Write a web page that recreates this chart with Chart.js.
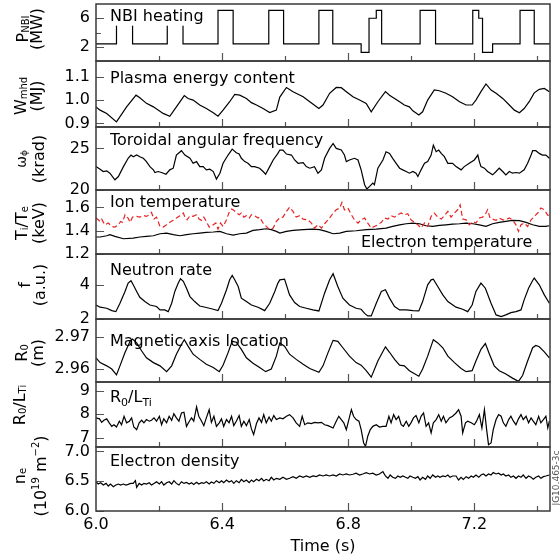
<!DOCTYPE html>
<html><head><meta charset="utf-8">
<script src="https://cdn.jsdelivr.net/npm/chart.js@4.4.1/dist/chart.umd.min.js"></script>
<style>
html,body{margin:0;padding:0;background:#fff;}
#wrap{position:relative;width:560px;height:560px;background:#fff;overflow:hidden;}
#wrap canvas{position:absolute;left:0;top:0;}
</style></head><body><div id="wrap"></div>
<script>
// ---------------- DATA ----------------
const timeTickValues = [6.0, 6.4, 6.8, 7.2];
const timeTickLabels = ['6.0', '6.4', '6.8', '7.2'];
const timeMinorMarks = [6.2, 6.6, 7.0, 7.4];

// NBI power (MW), step changes [time, power]
const nbiPower = [[6.000,2.4],[6.065,7.1],[6.116,2.4],[6.226,7.1],[6.276,2.4],[6.387,7.1],[6.435,2.4],[6.548,7.1],[6.595,2.4],[6.707,7.1],[6.751,2.4],[6.841,1.2],[6.866,6.0],[6.889,7.1],[6.906,2.4],[7.028,7.1],[7.077,2.4],[7.195,7.1],[7.214,6.0],[7.226,1.2],[7.258,2.4],[7.345,7.1],[7.390,2.4],[7.440,2.4]];
const nbiTicks = [2, 6];
const nbiTickLabels = ['2', '6'];

// Plasma energy content (MJ)
const wmhd = [[6.000,0.971],[6.013,0.957],[6.034,0.943],[6.065,0.907],[6.097,0.971],[6.127,1.021],[6.139,1.010],[6.160,0.986],[6.182,0.971],[6.213,0.943],[6.234,0.931],[6.255,0.971],[6.280,1.019],[6.292,1.007],[6.308,1.000],[6.329,0.979],[6.350,0.964],[6.372,0.946],[6.387,0.931],[6.403,0.957],[6.424,0.993],[6.440,1.024],[6.456,1.021],[6.477,1.007],[6.493,0.989],[6.509,0.979],[6.530,0.964],[6.551,0.947],[6.572,0.957],[6.583,1.013],[6.604,1.054],[6.625,1.036],[6.657,1.014],[6.678,0.993],[6.707,0.964],[6.720,0.979],[6.741,1.029],[6.762,1.054],[6.778,1.053],[6.794,1.036],[6.815,1.014],[6.836,1.000],[6.857,0.986],[6.873,0.950],[6.894,0.993],[6.918,1.036],[6.931,1.021],[6.947,1.007],[6.963,0.993],[6.978,0.979],[6.994,0.971],[7.005,0.954],[7.024,0.936],[7.036,0.950],[7.052,1.000],[7.073,1.043],[7.089,1.040],[7.110,1.029],[7.131,1.014],[7.153,0.993],[7.174,0.979],[7.193,0.979],[7.205,1.000],[7.221,1.036],[7.237,1.069],[7.253,1.043],[7.269,1.029],[7.290,1.007],[7.311,0.979],[7.327,0.957],[7.343,0.946],[7.358,0.964],[7.374,0.993],[7.390,1.031],[7.406,1.046],[7.422,1.050],[7.438,1.036]];
const wmhdTicks = [0.9, 1.0, 1.1];
const wmhdTickLabels = ['0.9', '1.0', '1.1'];

// Toroidal angular frequency (krad)
const omega = [[6.000,22.81],[6.013,22.50],[6.023,22.22],[6.034,22.30],[6.044,22.02],[6.060,21.23],[6.071,21.62],[6.087,22.81],[6.102,23.81],[6.111,24.20],[6.118,24.00],[6.129,24.20],[6.139,24.00],[6.150,23.81],[6.160,23.41],[6.171,22.81],[6.182,22.42],[6.187,22.10],[6.197,22.22],[6.208,22.10],[6.222,21.90],[6.234,22.42],[6.245,22.62],[6.255,24.20],[6.271,24.72],[6.282,24.20],[6.298,23.81],[6.308,23.21],[6.319,23.41],[6.329,22.81],[6.340,22.81],[6.350,22.42],[6.361,22.50],[6.372,22.22],[6.382,21.31],[6.393,22.02],[6.403,23.21],[6.419,24.20],[6.432,24.92],[6.445,24.48],[6.454,24.32],[6.461,23.81],[6.472,23.41],[6.482,23.21],[6.493,22.81],[6.503,22.81],[6.519,22.62],[6.530,22.22],[6.538,21.90],[6.551,22.81],[6.562,23.61],[6.577,24.40],[6.583,24.80],[6.593,24.80],[6.604,24.32],[6.620,24.20],[6.630,23.61],[6.641,23.21],[6.657,23.29],[6.667,22.81],[6.678,22.62],[6.693,22.81],[6.704,22.02],[6.715,22.42],[6.725,23.81],[6.741,25.00],[6.752,25.59],[6.762,25.00],[6.778,24.80],[6.788,24.20],[6.794,23.41],[6.804,23.61],[6.820,23.81],[6.831,23.61],[6.841,22.42],[6.852,20.63],[6.859,20.12],[6.868,20.43],[6.878,20.83],[6.883,20.63],[6.894,22.62],[6.910,23.61],[6.920,24.60],[6.931,24.40],[6.941,23.81],[6.952,23.21],[6.963,22.62],[6.973,22.42],[6.984,22.22],[6.994,22.02],[7.005,22.22],[7.015,22.02],[7.021,21.62],[7.031,22.42],[7.042,23.21],[7.052,23.41],[7.063,24.20],[7.070,25.39],[7.079,24.60],[7.087,24.80],[7.095,24.40],[7.105,24.00],[7.116,23.21],[7.131,23.21],[7.142,22.81],[7.158,22.42],[7.168,22.81],[7.184,23.21],[7.200,23.61],[7.211,24.20],[7.216,23.41],[7.221,22.81],[7.232,22.62],[7.242,22.22],[7.258,21.82],[7.269,22.22],[7.279,22.62],[7.290,22.22],[7.300,21.82],[7.311,22.22],[7.321,22.02],[7.332,22.10],[7.343,22.02],[7.358,22.42],[7.369,23.21],[7.380,24.20],[7.385,24.72],[7.395,24.72],[7.406,24.40],[7.416,24.20],[7.427,24.20],[7.438,23.81]];
const omegaTicks = [20, 25];
const omegaTickLabels = ['20', '25'];

// Ion temperature (keV), dashed red
const ionTemp = [[6.000,1.509],[6.007,1.494],[6.013,1.480],[6.018,1.500],[6.028,1.451],[6.039,1.466],[6.050,1.437],[6.060,1.431],[6.071,1.451],[6.078,1.480],[6.084,1.472],[6.092,1.537],[6.097,1.517],[6.102,1.509],[6.108,1.472],[6.116,1.517],[6.129,1.523],[6.139,1.517],[6.150,1.531],[6.160,1.523],[6.169,1.537],[6.176,1.557],[6.184,1.500],[6.192,1.517],[6.203,1.437],[6.213,1.431],[6.224,1.451],[6.234,1.472],[6.245,1.489],[6.255,1.509],[6.266,1.529],[6.277,1.552],[6.282,1.517],[6.289,1.494],[6.298,1.529],[6.308,1.523],[6.319,1.537],[6.327,1.500],[6.335,1.489],[6.342,1.517],[6.350,1.480],[6.359,1.431],[6.366,1.437],[6.372,1.451],[6.380,1.466],[6.387,1.414],[6.395,1.466],[6.403,1.437],[6.414,1.494],[6.422,1.557],[6.430,1.586],[6.435,1.580],[6.445,1.557],[6.454,1.537],[6.461,1.552],[6.469,1.517],[6.477,1.529],[6.486,1.509],[6.493,1.537],[6.503,1.529],[6.514,1.509],[6.519,1.517],[6.530,1.466],[6.540,1.437],[6.551,1.409],[6.562,1.423],[6.572,1.480],[6.583,1.511],[6.593,1.517],[6.604,1.566],[6.614,1.603],[6.625,1.566],[6.635,1.517],[6.646,1.529],[6.657,1.500],[6.672,1.494],[6.683,1.466],[6.693,1.423],[6.704,1.451],[6.715,1.423],[6.725,1.460],[6.741,1.509],[6.752,1.552],[6.762,1.580],[6.773,1.595],[6.780,1.643],[6.788,1.580],[6.799,1.595],[6.810,1.537],[6.820,1.494],[6.831,1.466],[6.841,1.494],[6.852,1.509],[6.862,1.466],[6.873,1.423],[6.883,1.437],[6.894,1.451],[6.905,1.472],[6.915,1.509],[6.926,1.500],[6.936,1.529],[6.947,1.517],[6.957,1.537],[6.968,1.552],[6.978,1.537],[6.989,1.546],[6.999,1.494],[7.010,1.472],[7.021,1.451],[7.031,1.423],[7.042,1.466],[7.052,1.437],[7.063,1.523],[7.073,1.552],[7.084,1.517],[7.095,1.500],[7.105,1.529],[7.116,1.566],[7.126,1.517],[7.137,1.552],[7.147,1.580],[7.155,1.623],[7.163,1.500],[7.174,1.494],[7.184,1.451],[7.195,1.480],[7.205,1.466],[7.216,1.509],[7.226,1.517],[7.237,1.552],[7.242,1.580],[7.250,1.509],[7.258,1.500],[7.269,1.489],[7.279,1.509],[7.290,1.494],[7.300,1.494],[7.311,1.509],[7.321,1.494],[7.332,1.451],[7.340,1.394],[7.348,1.451],[7.358,1.466],[7.369,1.437],[7.380,1.494],[7.390,1.523],[7.401,1.552],[7.411,1.595],[7.422,1.580],[7.432,1.537],[7.438,1.523]];
// Electron temperature (keV), solid black
const elecTemp = [[6.000,1.346],[6.013,1.346],[6.034,1.357],[6.044,1.366],[6.060,1.351],[6.087,1.331],[6.118,1.337],[6.139,1.346],[6.160,1.351],[6.182,1.357],[6.203,1.374],[6.224,1.380],[6.245,1.366],[6.266,1.357],[6.287,1.366],[6.308,1.374],[6.329,1.380],[6.350,1.386],[6.372,1.389],[6.393,1.394],[6.414,1.374],[6.435,1.363],[6.456,1.374],[6.477,1.380],[6.498,1.403],[6.519,1.409],[6.540,1.417],[6.556,1.409],[6.572,1.394],[6.583,1.380],[6.604,1.394],[6.625,1.403],[6.657,1.409],[6.688,1.414],[6.709,1.409],[6.730,1.394],[6.752,1.374],[6.773,1.380],[6.794,1.394],[6.825,1.400],[6.857,1.409],[6.889,1.414],[6.920,1.423],[6.941,1.437],[6.963,1.451],[6.984,1.460],[7.005,1.466],[7.026,1.460],[7.047,1.443],[7.068,1.437],[7.089,1.446],[7.110,1.451],[7.131,1.457],[7.153,1.460],[7.174,1.466],[7.195,1.460],[7.216,1.451],[7.237,1.437],[7.258,1.460],[7.279,1.472],[7.300,1.480],[7.321,1.489],[7.343,1.486],[7.364,1.472],[7.385,1.451],[7.406,1.437],[7.427,1.437],[7.438,1.443]];
const tempTicks = [1.2, 1.4, 1.6];
const tempTickLabels = ['1.2', '1.4', '1.6'];

// Neutron rate (a.u.)
const neutron = [[6.000,2.82],[6.013,2.69],[6.034,2.63],[6.050,2.49],[6.063,2.43],[6.076,2.92],[6.092,3.61],[6.102,4.10],[6.111,4.24],[6.118,4.00],[6.129,3.61],[6.139,3.27],[6.155,3.02],[6.171,2.82],[6.192,2.73],[6.203,2.53],[6.218,2.53],[6.229,2.43],[6.240,2.92],[6.250,3.61],[6.261,4.10],[6.268,4.35],[6.277,4.20],[6.287,3.80],[6.298,3.31],[6.313,3.02],[6.329,2.76],[6.350,2.67],[6.372,2.57],[6.387,2.49],[6.398,2.92],[6.414,3.71],[6.424,4.29],[6.432,4.55],[6.440,4.29],[6.451,3.90],[6.461,3.22],[6.477,3.02],[6.493,2.82],[6.514,2.69],[6.535,2.49],[6.551,2.92],[6.567,3.61],[6.577,4.10],[6.583,4.29],[6.598,4.33],[6.614,3.41],[6.630,2.96],[6.646,2.73],[6.667,2.63],[6.688,2.53],[6.707,2.47],[6.725,3.51],[6.741,4.29],[6.752,4.65],[6.767,3.90],[6.783,3.22],[6.804,2.82],[6.825,2.63],[6.841,2.57],[6.852,2.33],[6.862,2.18],[6.873,2.18],[6.889,2.92],[6.905,3.61],[6.918,3.71],[6.931,3.22],[6.947,2.73],[6.963,2.53],[6.984,2.53],[7.005,2.49],[7.024,2.47],[7.036,3.02],[7.052,4.00],[7.063,4.29],[7.070,4.33],[7.084,3.90],[7.100,3.41],[7.116,3.02],[7.142,2.69],[7.163,2.57],[7.179,2.43],[7.193,2.82],[7.205,3.61],[7.221,4.10],[7.235,3.80],[7.253,2.92],[7.269,2.24],[7.285,2.14],[7.300,2.24],[7.316,2.37],[7.332,2.43],[7.348,2.53],[7.358,3.12],[7.372,3.80],[7.385,4.25],[7.390,4.39],[7.406,4.00],[7.422,3.41],[7.438,2.92]];
const neutronTicks = [2, 4];
const neutronTickLabels = ['2', '4'];

// Magnetic axis location (m)
const axisR0 = [[6.000,2.9635],[6.013,2.9620],[6.034,2.9610],[6.050,2.9600],[6.065,2.9582],[6.076,2.9610],[6.092,2.9651],[6.108,2.9686],[6.116,2.9693],[6.129,2.9681],[6.145,2.9656],[6.160,2.9635],[6.182,2.9620],[6.203,2.9610],[6.224,2.9592],[6.240,2.9610],[6.255,2.9646],[6.271,2.9676],[6.280,2.9691],[6.292,2.9671],[6.308,2.9646],[6.329,2.9630],[6.350,2.9615],[6.372,2.9605],[6.391,2.9592],[6.403,2.9612],[6.419,2.9651],[6.432,2.9686],[6.445,2.9683],[6.461,2.9661],[6.477,2.9635],[6.498,2.9618],[6.519,2.9605],[6.538,2.9592],[6.556,2.9600],[6.572,2.9640],[6.583,2.9681],[6.598,2.9671],[6.614,2.9646],[6.635,2.9630],[6.657,2.9615],[6.678,2.9602],[6.707,2.9590],[6.720,2.9610],[6.736,2.9651],[6.752,2.9689],[6.767,2.9686],[6.783,2.9666],[6.804,2.9640],[6.825,2.9620],[6.841,2.9612],[6.857,2.9595],[6.873,2.9575],[6.894,2.9625],[6.918,2.9669],[6.931,2.9652],[6.947,2.9630],[6.963,2.9612],[6.978,2.9610],[6.994,2.9595],[7.024,2.9578],[7.036,2.9600],[7.052,2.9640],[7.070,2.9691],[7.084,2.9681],[7.100,2.9666],[7.116,2.9640],[7.137,2.9620],[7.158,2.9602],[7.174,2.9592],[7.193,2.9595],[7.205,2.9625],[7.221,2.9661],[7.235,2.9679],[7.248,2.9646],[7.263,2.9610],[7.279,2.9595],[7.300,2.9585],[7.321,2.9572],[7.340,2.9562],[7.353,2.9580],[7.369,2.9625],[7.385,2.9666],[7.395,2.9673],[7.406,2.9669],[7.422,2.9653],[7.438,2.9635]];
const axisTicks = [2.96, 2.97];
const axisTickLabels = ['2.96', '2.97'];

// R0/LTi
const gradTi = [[6.000,7.84],[6.011,7.80],[6.018,7.65],[6.025,7.74],[6.034,7.80],[6.042,7.63],[6.050,7.48],[6.057,7.55],[6.065,7.45],[6.074,7.70],[6.081,7.55],[6.089,7.91],[6.097,7.63],[6.106,7.70],[6.113,7.84],[6.120,7.45],[6.129,7.34],[6.137,7.63],[6.145,7.74],[6.152,7.63],[6.160,7.77],[6.169,7.70],[6.176,7.74],[6.184,7.84],[6.192,7.70],[6.201,7.91],[6.208,7.55],[6.215,7.80],[6.224,7.63],[6.232,7.91],[6.240,7.74],[6.247,8.02],[6.255,7.84],[6.263,7.70],[6.271,8.05],[6.279,8.08],[6.287,7.48],[6.296,7.70],[6.303,7.84],[6.310,7.70],[6.319,8.31],[6.326,7.91],[6.335,7.70],[6.342,7.51],[6.350,7.84],[6.359,8.19],[6.366,7.65],[6.374,7.91],[6.382,7.48],[6.391,7.63],[6.398,7.80],[6.405,7.48],[6.414,7.77],[6.422,7.63],[6.430,7.91],[6.437,7.51],[6.445,7.70],[6.454,7.94],[6.461,7.48],[6.469,7.70],[6.477,7.51],[6.486,7.77],[6.493,7.37],[6.500,7.13],[6.509,7.60],[6.517,7.84],[6.525,7.65],[6.532,7.98],[6.540,7.63],[6.549,7.88],[6.556,7.70],[6.564,7.94],[6.572,7.77],[6.583,7.84],[6.593,7.80],[6.604,7.91],[6.614,7.98],[6.625,7.84],[6.635,7.63],[6.646,7.48],[6.654,7.91],[6.662,7.55],[6.672,7.63],[6.683,7.60],[6.693,7.65],[6.704,7.63],[6.715,7.65],[6.725,7.55],[6.736,7.51],[6.752,7.41],[6.762,7.70],[6.770,7.91],[6.778,7.77],[6.786,7.63],[6.794,7.34],[6.802,7.77],[6.810,8.19],[6.817,7.91],[6.825,7.77],[6.834,7.70],[6.841,7.34],[6.849,6.77],[6.855,6.63],[6.862,7.06],[6.870,7.34],[6.878,7.48],[6.889,7.55],[6.899,7.45],[6.910,7.48],[6.920,7.48],[6.929,7.91],[6.936,7.63],[6.944,7.98],[6.952,7.77],[6.960,7.91],[6.968,7.55],[6.975,7.48],[6.984,7.70],[6.992,7.48],[6.999,7.63],[7.007,7.84],[7.015,7.94],[7.024,7.63],[7.031,7.91],[7.039,8.05],[7.047,7.48],[7.055,7.63],[7.063,7.20],[7.070,7.63],[7.079,7.77],[7.087,7.98],[7.095,7.70],[7.102,7.91],[7.110,7.63],[7.121,7.84],[7.131,7.91],[7.142,8.05],[7.150,8.19],[7.158,7.91],[7.163,7.20],[7.172,7.63],[7.179,7.70],[7.190,7.63],[7.200,7.55],[7.207,7.70],[7.216,7.98],[7.224,7.41],[7.232,8.19],[7.239,7.34],[7.245,6.70],[7.253,6.77],[7.260,7.34],[7.269,7.77],[7.277,7.98],[7.285,7.91],[7.292,7.63],[7.300,7.48],[7.309,7.77],[7.316,7.91],[7.324,7.70],[7.332,7.55],[7.340,7.80],[7.348,7.98],[7.355,7.77],[7.364,7.91],[7.372,7.63],[7.380,7.84],[7.387,7.70],[7.395,7.55],[7.404,7.91],[7.411,7.63],[7.419,7.77],[7.427,7.91],[7.433,7.41],[7.438,7.70]];
const gradTiTicks = [7, 8, 9];
const gradTiTickLabels = ['7', '8', '9'];

// Electron density (1e19 m^-2)
const density = [[6.000,6.492],[6.007,6.453],[6.015,6.475],[6.023,6.436],[6.032,6.464],[6.039,6.419],[6.046,6.453],[6.055,6.408],[6.063,6.436],[6.071,6.453],[6.078,6.436],[6.087,6.453],[6.095,6.436],[6.102,6.447],[6.110,6.464],[6.118,6.464],[6.125,6.509],[6.129,6.396],[6.137,6.464],[6.145,6.436],[6.152,6.464],[6.160,6.453],[6.169,6.475],[6.176,6.436],[6.184,6.464],[6.192,6.492],[6.201,6.453],[6.208,6.492],[6.215,6.436],[6.224,6.475],[6.232,6.492],[6.240,6.453],[6.247,6.509],[6.255,6.464],[6.263,6.436],[6.271,6.492],[6.279,6.464],[6.287,6.481],[6.296,6.453],[6.303,6.475],[6.310,6.447],[6.319,6.481],[6.326,6.453],[6.335,6.475],[6.342,6.464],[6.350,6.492],[6.359,6.453],[6.366,6.487],[6.374,6.464],[6.382,6.509],[6.391,6.475],[6.398,6.509],[6.405,6.475],[6.414,6.521],[6.422,6.487],[6.430,6.509],[6.437,6.464],[6.445,6.509],[6.454,6.475],[6.461,6.532],[6.469,6.492],[6.477,6.521],[6.486,6.475],[6.493,6.521],[6.500,6.492],[6.509,6.532],[6.517,6.509],[6.525,6.549],[6.532,6.504],[6.540,6.532],[6.549,6.509],[6.556,6.566],[6.564,6.521],[6.572,6.549],[6.583,6.532],[6.593,6.566],[6.604,6.532],[6.614,6.549],[6.625,6.577],[6.635,6.549],[6.646,6.588],[6.657,6.566],[6.667,6.588],[6.678,6.566],[6.688,6.588],[6.699,6.577],[6.709,6.605],[6.720,6.588],[6.730,6.605],[6.741,6.588],[6.752,6.605],[6.762,6.588],[6.773,6.622],[6.783,6.605],[6.794,6.622],[6.804,6.605],[6.815,6.617],[6.825,6.634],[6.836,6.605],[6.846,6.622],[6.857,6.645],[6.868,6.622],[6.878,6.634],[6.889,6.605],[6.899,6.622],[6.910,6.662],[6.918,6.588],[6.926,6.549],[6.933,6.605],[6.941,6.566],[6.950,6.549],[6.957,6.588],[6.965,6.566],[6.973,6.588],[6.982,6.566],[6.989,6.549],[6.996,6.588],[7.005,6.566],[7.013,6.549],[7.021,6.577],[7.028,6.521],[7.036,6.566],[7.045,6.532],[7.052,6.588],[7.060,6.549],[7.068,6.605],[7.077,6.566],[7.084,6.588],[7.091,6.566],[7.100,6.588],[7.108,6.577],[7.116,6.605],[7.123,6.566],[7.131,6.588],[7.142,6.588],[7.150,6.521],[7.158,6.566],[7.165,6.532],[7.174,6.577],[7.182,6.549],[7.190,6.588],[7.197,6.566],[7.205,6.605],[7.214,6.566],[7.221,6.605],[7.229,6.622],[7.237,6.588],[7.245,6.622],[7.253,6.605],[7.260,6.645],[7.269,6.622],[7.277,6.634],[7.285,6.605],[7.292,6.622],[7.300,6.588],[7.309,6.605],[7.316,6.566],[7.324,6.588],[7.332,6.549],[7.340,6.588],[7.348,6.566],[7.355,6.605],[7.364,6.549],[7.372,6.588],[7.380,6.566],[7.387,6.532],[7.395,6.566],[7.404,6.588],[7.411,6.549],[7.419,6.577],[7.427,6.588],[7.438,6.605]];
const densityTicks = [6.0, 6.5, 7.0];
const densityTickLabels = ['6.0', '6.5', '7.0'];

// ---------------- LAYOUT / STYLE ----------------
const FAMILY = '"DejaVu Sans", "Liberation Sans", sans-serif';
const FS = 16;
const X_MIN = 6.0, X_MAX = 7.44;
const FRAME = '#3a3a3a';
const TICKC = '#555';
Chart.defaults.font.family = FAMILY;
Chart.defaults.font.size = FS;
Chart.defaults.color = '#000';

function fontFor(p, size, subScale) {
  const s = (p[1] === 'sub' || p[1] === 'sup') ? Math.round(size * subScale) : size;
  return s + 'px ' + FAMILY;
}
function richWidth(ctx, parts, size, subScale) {
  let w = 0;
  parts.forEach(p => { ctx.font = fontFor(p, size, subScale); w += ctx.measureText(p[0]).width; });
  return w;
}
function drawRich(ctx, parts, x, y, size, subShift, subScale) {
  parts.forEach(p => {
    ctx.font = fontFor(p, size, subScale);
    const dy = p[1] === 'sub' ? size * subShift : (p[1] === 'sup' ? -size * 0.42 : 0);
    ctx.fillText(p[0], x, y + dy);
    x += ctx.measureText(p[0]).width;
  });
}

const panels = [
  { top: 4, bottom: 61, min: 0, max: 8, ticks: nbiTicks, tickLabels: nbiTickLabels, minor: [4],
    series: [{ data: nbiPower, stepped: true }],
    labels: [{ parts: [['NBI heating']], x: 110, y: 20.7, box: true }],
    title: [{ parts: [['P'], ['NBI', 'sub']], bx: 28 }, { parts: [['(MW)']], bx: 42 }], cy: 29 },
  { top: 61, bottom: 127, min: 0.885, max: 1.167, ticks: wmhdTicks, tickLabels: wmhdTickLabels, minor: [],
    series: [{ data: wmhd }],
    labels: [{ parts: [['Plasma energy content']], x: 110, y: 83.3 }],
    title: [{ parts: [['W'], ['mhd', 'sub']], bx: 26 }, { parts: [['(MJ)']], bx: 42 }], cy: 96 },
  { top: 127, bottom: 190, min: 20, max: 27.57, ticks: omegaTicks, tickLabels: omegaTickLabels, minor: [],
    series: [{ data: omega }],
    labels: [{ parts: [['Toroidal angular frequency']], x: 110, y: 145 }],
    title: [{ parts: [['ω'], ['ϕ', 'sub']], bx: 26, size: 14 }, { parts: [['(krad)']], bx: 44 }], cy: 159 },
  { top: 190, bottom: 254, min: 1.2, max: 1.75, ticks: tempTicks, tickLabels: tempTickLabels, minor: [],
    series: [{ data: ionTemp, color: 'rgb(232,36,36)', dash: [5, 3] }, { data: elecTemp }],
    labels: [{ parts: [['Ion temperature']], x: 110, y: 206.7 }, { parts: [['Electron temperature']], x: 361, y: 246.7 }],
    title: [{ parts: [['T'], ['i', 'sub'], ['/T'], ['e', 'sub']], bx: 27 }, { parts: [['(keV)']], bx: 44 }], cy: 223 },
  { top: 254, bottom: 319, min: 2, max: 5.8, ticks: neutronTicks, tickLabels: neutronTickLabels, minor: [],
    series: [{ data: neutron }],
    labels: [{ parts: [['Neutron rate']], x: 110, y: 275 }],
    title: [{ parts: [['f']], bx: 30 }, { parts: [['(a.u.)']], bx: 45 }], cy: 285 },
  { top: 319, bottom: 382, min: 2.956, max: 2.9755, ticks: axisTicks, tickLabels: axisTickLabels, minor: [],
    series: [{ data: axisR0 }],
    labels: [{ parts: [['Magnetic axis location']], x: 110, y: 346 }],
    title: [{ parts: [['R'], ['0', 'sub']], bx: 27 }, { parts: [['(m)']], bx: 43 }], cy: 353 },
  { top: 382, bottom: 447, min: 6.6, max: 9.37, ticks: gradTiTicks, tickLabels: gradTiTickLabels, minor: [],
    series: [{ data: gradTi }],
    labels: [{ parts: [['R'], ['0', 'sub'], ['/L'], ['Ti', 'sub']], x: 110, y: 401.7 }],
    title: [{ parts: [['R'], ['0', 'sub'], ['/L'], ['Ti', 'sub']], bx: 25 }], cy: 405 },
  { top: 447, bottom: 511, min: 6.0, max: 7.075, ticks: densityTicks, tickLabels: densityTickLabels, minor: [],
    series: [{ data: density }],
    labels: [{ parts: [['Electron density']], x: 110, y: 466 }],
    title: [{ parts: [['n'], ['e', 'sub']], bx: 25 }, { parts: [['(10'], ['19', 'sup'], [' m'], ['−2', 'sup'], [')']], bx: 46 }], cy: 476,
    xAxis: true }
];

function makeDeco(cfg) {
  return {
    id: 'panelDeco',
    afterDatasetsDraw(chart) {
      const ctx = chart.ctx, ca = chart.chartArea;
      const xs = chart.scales.x, ys = chart.scales.y;
      ctx.save();
      ctx.textBaseline = 'alphabetic';
      ctx.textAlign = 'left';
      cfg.labels.forEach(l => {
        const w = richWidth(ctx, l.parts, FS, 0.7);
        if (l.box) { ctx.fillStyle = '#fff'; ctx.fillRect(l.x - 3, l.y - 16, w + 7, 21); }
        ctx.fillStyle = '#000';
        drawRich(ctx, l.parts, l.x, l.y, FS, 0.25, 0.7);
      });
      // x tick marks (inside, pointing up)
      ctx.strokeStyle = TICKC; ctx.lineWidth = 1.2;
      ctx.beginPath();
      timeTickValues.concat(timeMinorMarks).forEach(v => {
        if (v <= X_MIN) return;
        const px = Math.round(xs.getPixelForValue(v)) + 0.5;
        const len = timeTickValues.includes(v) ? 8 : 5;
        ctx.moveTo(px, ca.bottom); ctx.lineTo(px, ca.bottom - len);
      });
      // y tick marks (inside, pointing right)
      cfg.ticks.forEach(v => {
        const py = Math.round(ys.getPixelForValue(v)) + 0.5;
        ctx.moveTo(ca.left, py); ctx.lineTo(ca.left + 8, py);
      });
      cfg.minor.forEach(v => {
        const py = Math.round(ys.getPixelForValue(v)) + 0.5;
        ctx.moveTo(ca.left, py); ctx.lineTo(ca.left + 5, py);
      });
      ctx.stroke();
      // frame
      ctx.strokeStyle = FRAME; ctx.lineWidth = 1.5;
      ctx.strokeRect(ca.left, ca.top, ca.right - ca.left, ca.bottom - ca.top);
      ctx.restore();
    },
    afterDraw(chart) {
      const ctx = chart.ctx;
      ctx.save();
      ctx.fillStyle = '#000';
      ctx.textBaseline = 'alphabetic';
      ctx.textAlign = 'left';
      cfg.title.forEach(line => {
        const size = line.size || FS;
        const w = richWidth(ctx, line.parts, size, 0.62);
        ctx.save();
        ctx.translate(line.bx, cfg.cy);
        ctx.rotate(-Math.PI / 2);
        drawRich(ctx, line.parts, -w / 2, 0, size, 0.06, 0.62);
        ctx.restore();
      });
      if (cfg.xAxis) {
        ctx.save();
        ctx.fillStyle = '#555';
        ctx.font = '9px ' + FAMILY;
        ctx.translate(559, 478);
        ctx.rotate(-Math.PI / 2);
        ctx.textAlign = 'center';
        ctx.fillText('JG10.465-3c', 0, 0);
        ctx.restore();
      }
      ctx.restore();
    }
  };
}

const wrap = document.getElementById('wrap');
panels.forEach(cfg => {
  const cv = document.createElement('canvas');
  cv.width = 560; cv.height = 560;
  cv.style.width = '560px'; cv.style.height = '560px';
  wrap.appendChild(cv);
  const xScale = cfg.xAxis ? {
    type: 'linear', min: X_MIN, max: X_MAX, position: 'bottom',
    afterBuildTicks: s => { s.ticks = timeTickValues.map(v => ({ value: v })); },
    afterFit: s => { s.height = 560 - cfg.bottom; s.paddingLeft = 0; s.paddingRight = 0; },
    ticks: { autoSkip: false, maxRotation: 0, minRotation: 0, padding: 4, color: '#000',
      callback: (v, i) => timeTickLabels[i] },
    grid: { display: false, drawTicks: false }, border: { display: false },
    title: { display: true, text: 'Time (s)', color: '#000', padding: { top: 0, bottom: 4 } }
  } : { type: 'linear', min: X_MIN, max: X_MAX, display: false };
  new Chart(cv.getContext('2d'), {
    type: 'line',
    data: {
      datasets: cfg.series.map(s => ({
        data: s.data.map(p => ({ x: p[0], y: p[1] })),
        borderColor: s.color || '#000', borderWidth: 1.2, borderDash: s.dash || [],
        pointRadius: 0, tension: 0, fill: false, stepped: s.stepped || false
      }))
    },
    options: {
      responsive: false, animation: false, devicePixelRatio: 1, events: [],
      layout: { padding: { left: 0, right: 10, top: cfg.top, bottom: cfg.xAxis ? 0 : 560 - cfg.bottom } },
      plugins: { legend: { display: false }, tooltip: { enabled: false } },
      scales: {
        x: xScale,
        y: {
          type: 'linear', min: cfg.min, max: cfg.max,
          afterBuildTicks: s => { s.ticks = cfg.ticks.map(v => ({ value: v })); },
          afterFit: s => { s.width = 96; s.paddingTop = 0; s.paddingBottom = 0; },
          ticks: { autoSkip: false, padding: 6, color: '#000', callback: (v, i) => cfg.tickLabels[i] },
          grid: { display: false, drawTicks: false }, border: { display: false }
        }
      }
    },
    plugins: [makeDeco(cfg)]
  });
});
</script></body></html>
